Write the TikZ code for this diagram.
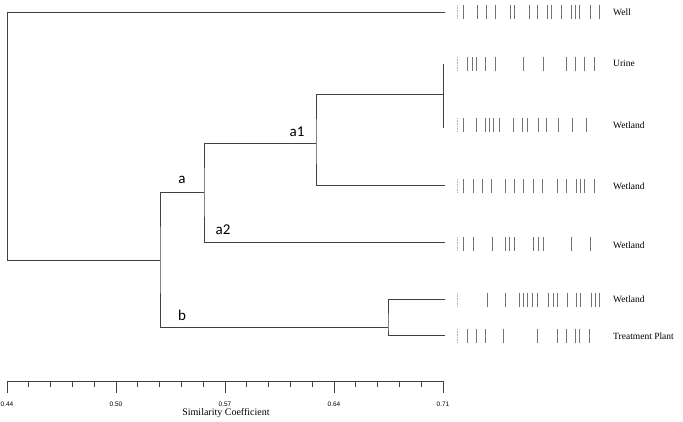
\documentclass[tikz,border=0pt]{standalone}
\usepackage{fontspec}
\setmainfont{Liberation Serif}
\newfontfamily\clusterfont{Carlito}
\newfontfamily\scalefont{Liberation Sans}

\tikzset{
  branch/.style={draw=black!75, line width=0.8pt},
  lane/.style={draw=black!55, line width=0.9pt},
  faint/.style={draw=black!30, line width=0.7pt, dash pattern=on 1pt off 0.6pt},
  sample/.style={anchor=west, inner sep=0pt, font=\fontsize{9.5}{10}\selectfont},
  clusterlab/.style={inner sep=0pt, font=\clusterfont\fontsize{15}{15}\selectfont},
  ticklab/.style={inner sep=0pt, font=\scalefont\fontsize{6.5}{6.5}\selectfont}
}
% one lane of bands: #1 = y, #2 = band positions
\newcommand{\bandrow}[2]{%
  \draw[faint] (457,#1-7) -- (457,#1+7);
  \foreach \bx in {#2} {\draw[lane] (\bx,#1-7) -- (\bx,#1+7);}}

\begin{document}
\begin{tikzpicture}[x=1pt, y=-1pt]
  \useasboundingbox (0,0) rectangle (683,422);

  % leaves
  \coordinate (well) at (445,12);
  \coordinate (urine) at (443,64);
  \coordinate (wet1) at (443,128);
  \coordinate (wet2) at (445,185);
  \coordinate (wet3) at (445,242);
  \coordinate (wet4) at (445,299);
  \coordinate (plant) at (445,335);
  % junctions
  \coordinate (root) at (7,260);
  \coordinate (nab) at (160,260);
  \coordinate (na) at (204,192);
  \coordinate (na1) at (316,143);
  \coordinate (nuw) at (443,94);
  \coordinate (nb) at (388,327);

  \draw[branch] (well) -| (root) -- (nab);
  \draw[branch] (na) -| (nab) |- (nb);
  \draw[branch] (na1) -| (na) |- (wet3);
  \draw[branch] (nuw) -| (na1) |- (wet2);
  \draw[branch] (urine) -- (wet1);
  \draw[branch] (wet4) -| (nb) |- (plant);

  \node[clusterlab] (la) at (182,180) {a};
  \node[clusterlab] (la1) at (297,132) {a1};
  \node[clusterlab] (la2) at (223,230) {a2};
  \node[clusterlab] (lb) at (182,315) {b};

  % bands
  \bandrow{12}{463,477,486,495,510,514,529,537,547,551,561,571,575,579,590,599}
  \bandrow{64}{467,472,476,485,495,523,543,566,575,584,594}
  \bandrow{125}{463,476,485,489,493,499,513,522,527,538,546,558,572,586}
  \bandrow{186}{463,473,482,491,505,514,523,533,542,557,566,576,580,584,594}
  \bandrow{244}{463,473,492,505,509,514,533,538,543,571,590}
  \bandrow{300}{487,505,519,523,527,532,537,548,553,557,567,576,580,591,595,599}
  \bandrow{336}{467,476,485,503,537,557,566,575,579,589}

  \node[sample] (s1) at (613,12) {Well};
  \node[sample] (s2) at (613,63) {Urine};
  \node[sample] (s3) at (613,125) {Wetland};
  \node[sample] (s4) at (613,186) {Wetland};
  \node[sample] (s5) at (613,245) {Wetland};
  \node[sample] (s6) at (613,299) {Wetland};
  \node[sample] (s7) at (613,336) {Treatment Plant};

  % scale
  \draw[branch] (7,381) -- (443,381);
  \foreach \i in {0,...,20} {\draw[branch] (7+21.8*\i,381) -- (7+21.8*\i,387);}
  \foreach \v [count=\k from 0] in {0.44,0.50,0.57,0.64,0.71} {
    \draw[branch] (7+109*\k,381) -- (7+109*\k,393);
    \node[ticklab] at (7+109*\k,404) {\v};
  }
  \node[inner sep=0pt, font=\fontsize{10}{10}\selectfont] (axis) at (226,413) {Similarity Coefficient};
\end{tikzpicture}
\end{document}
